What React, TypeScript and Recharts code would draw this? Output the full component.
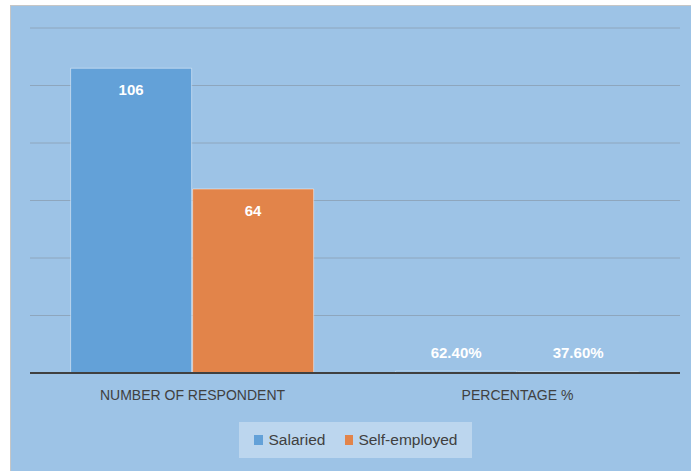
import React from "react";
import {
  BarChart,
  Bar,
  XAxis,
  YAxis,
  CartesianGrid,
  LabelList,
} from "recharts";

const categories = ["NUMBER OF RESPONDENT", "PERCENTAGE %"];
const salaried = [106, 0.624];
const selfEmployed = [64, 0.376];
const yTicks = [0, 20, 40, 60, 80, 100, 120];

const data = categories.map((name, i) => ({
  name,
  salaried: salaried[i],
  selfEmployed: selfEmployed[i],
}));

const FONT = '"Liberation Sans Narrow", "Liberation Sans", Arial, sans-serif';
const BLUE = "#63a1d8";
const ORANGE = "#e2844a";

function renderLabel(props: any) {
  const x = Number(props.x);
  const y = Number(props.y);
  const width = Number(props.width);
  const value = Number(props.value);
  const small = value < 5;
  const text = small ? (value * 100).toFixed(2) + "%" : String(value);
  return (
    <text
      x={x + width / 2}
      y={small ? y - 19 : y + 21}
      textAnchor="middle"
      dominantBaseline="central"
      fill="#ffffff"
      fontWeight={700}
      fontSize={15}
      fontFamily={FONT}
    >
      {text}
    </text>
  );
}

export default function App() {
  return (
    <div
      style={{
        position: "relative",
        width: 691,
        height: 471,
        background: "#ffffff",
        overflow: "hidden",
        fontFamily: FONT,
      }}
    >
      <style>{"body{margin:0}"}</style>
      <div
        style={{
          position: "absolute",
          left: 10,
          top: 5,
          width: 681,
          height: 466,
          boxSizing: "border-box",
          borderLeft: "1px solid #c6c6c6",
          borderTop: "1px solid #c6c6c6",
          background: "#9dc3e6",
        }}
      />
      <div style={{ position: "absolute", left: 0, top: 0 }}>
        <BarChart
          width={691}
          height={471}
          data={data}
          margin={{ top: 28, right: 11, left: 30, bottom: 68 }}
          barCategoryGap="12.5%"
          barGap={1}
        >
          <CartesianGrid
            vertical={false}
            stroke="#8ea6bd"
            strokeWidth={1}
          />
          <YAxis hide domain={[0, 120]} ticks={yTicks} />
          <XAxis
            dataKey="name"
            height={30}
            axisLine={{ stroke: "#404040", strokeWidth: 2 }}
            tickLine={false}
            tick={{ fill: "#404040", fontSize: 14, fontFamily: FONT }}
            dy={9}
          />
          <Bar
            dataKey="salaried"
            fill={BLUE}
            stroke="rgba(255,255,255,0.45)"
            strokeWidth={1}
            isAnimationActive={false}
          >
            <LabelList dataKey="salaried" content={renderLabel} />
          </Bar>
          <Bar
            dataKey="selfEmployed"
            fill={ORANGE}
            stroke="rgba(255,255,255,0.45)"
            strokeWidth={1}
            isAnimationActive={false}
          >
            <LabelList dataKey="selfEmployed" content={renderLabel} />
          </Bar>
        </BarChart>
      </div>
      <div
        style={{
          position: "absolute",
          left: 239,
          top: 422,
          width: 233,
          height: 36,
          background: "#bcd6ee",
          display: "flex",
          alignItems: "center",
          justifyContent: "center",
          color: "#404040",
          fontSize: 15.5,
        }}
      >
        <span style={{ width: 9, height: 10, background: BLUE, marginRight: 6 }} />
        <span style={{ marginRight: 20 }}>Salaried</span>
        <span style={{ width: 8, height: 10, background: ORANGE, marginRight: 5 }} />
        <span>Self-employed</span>
      </div>
    </div>
  );
}
